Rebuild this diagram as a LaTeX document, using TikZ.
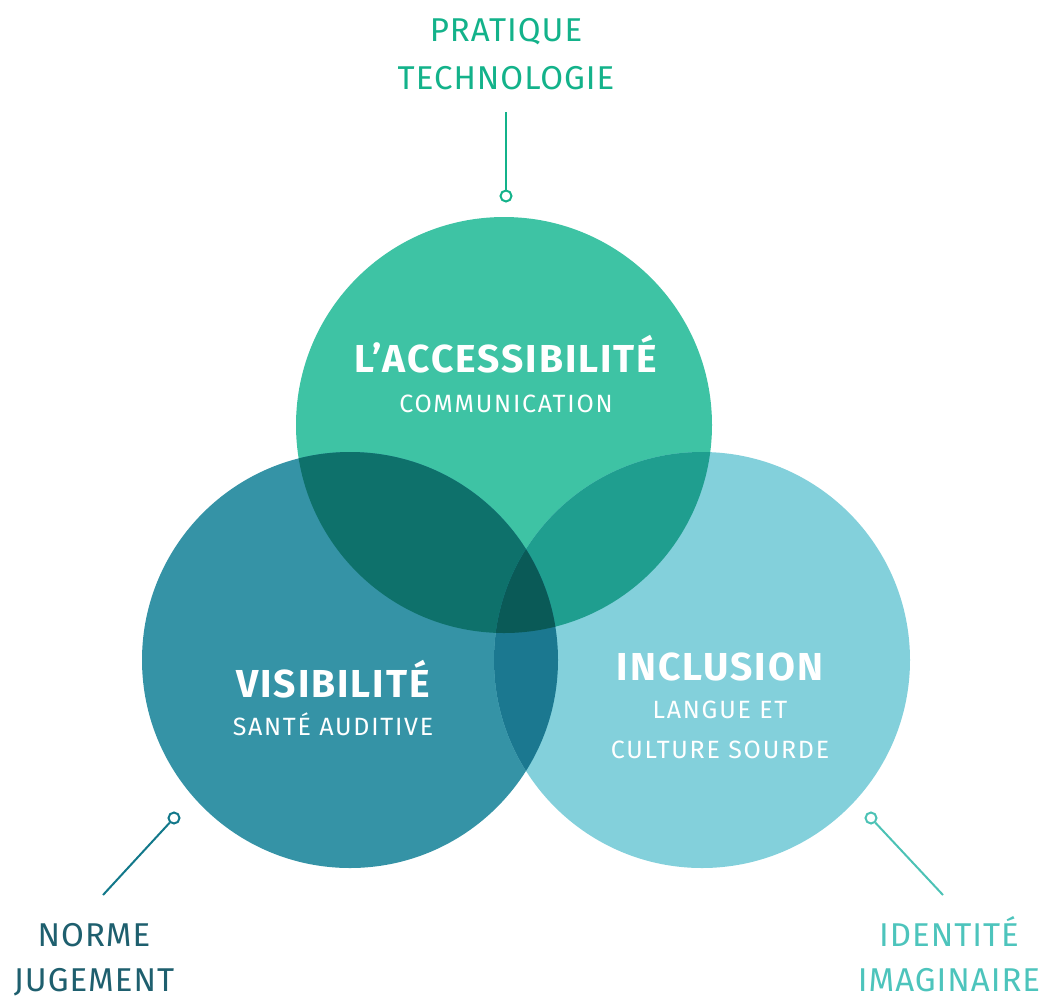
\documentclass[tikz,border=0pt]{standalone}
\usepackage{fontspec}
\setmainfont{Fira Sans}
\newfontfamily\outerfont[LetterSpace=3]{Fira Sans}
\newfontfamily\titlefont[LetterSpace=5]{Fira Sans}
\newfontfamily\subfont[LetterSpace=7]{Fira Sans}
\definecolor{ctop}{HTML}{3EC3A4}
\definecolor{cleft}{HTML}{3593A6}
\definecolor{cright}{HTML}{83D0DB}
\definecolor{ctl}{HTML}{0E716B}
\definecolor{ctr}{HTML}{1F9E8F}
\definecolor{clr}{HTML}{1B7890}
\definecolor{call}{HTML}{0A5A57}
\definecolor{ttop}{HTML}{13B28A}
\definecolor{tleft}{HTML}{1E5F6E}
\definecolor{tright}{HTML}{4DC4BC}
\definecolor{lleft}{HTML}{12788A}
\definecolor{lright}{HTML}{4CC2B5}
\begin{document}
\begin{tikzpicture}[x=1pt,y=-1pt,
  outer/.style={font=\outerfont\fontsize{33}{33}\selectfont,inner sep=0pt,anchor=base},
  title/.style={font=\titlefont\fontsize{39}{39}\selectfont\bfseries,text=white,inner sep=0pt,anchor=base},
  sub/.style={font=\subfont\fontsize{25}{25}\selectfont,text=white,inner sep=0pt,anchor=base},
  dot/.style={circle,draw,line width=2pt,fill=white,minimum size=11pt,inner sep=0pt},
  lead/.style={line width=2pt}]
\useasboundingbox (0,0) rectangle (1041,997);
\def\rr{208pt}
\coordinate (T) at (504,425);
\coordinate (L) at (350,660);
\coordinate (R) at (702,660);
\fill[ctop] (T) circle[radius=\rr];
\fill[cleft] (L) circle[radius=\rr];
\fill[cright] (R) circle[radius=\rr];
\begin{scope}
  \clip (L) circle[radius=\rr];
  \fill[ctl] (T) circle[radius=\rr];
\end{scope}
\begin{scope}
  \clip (R) circle[radius=\rr];
  \fill[ctr] (T) circle[radius=\rr];
\end{scope}
\begin{scope}
  \clip (L) circle[radius=\rr];
  \fill[clr] (R) circle[radius=\rr];
\end{scope}
\begin{scope}
  \clip (L) circle[radius=\rr];
  \clip (R) circle[radius=\rr];
  \fill[call] (T) circle[radius=\rr];
\end{scope}
% circle texts
\node[title] (acc) at (506,372) {L’ACCESSIBILITÉ};
\node[sub] (com) at (506,412) {COMMUNICATION};
\node[title] (vis) at (333,697) {VISIBILITÉ};
\node[sub] (sant) at (333,735) {SANTÉ AUDITIVE};
\node[title] (inc) at (720,680) {INCLUSION};
\node[sub] (lang) at (720,718) {LANGUE ET};
\node[sub] (cult) at (720,758) {CULTURE SOURDE};
% outer labels
\node[outer,text=ttop] (prat) at (506,41) {PRATIQUE};
\node[outer,text=ttop] (tech) at (506,89) {TECHNOLOGIE};
\node[outer,text=tleft] (norm) at (94,946) {NORME};
\node[outer,text=tleft] (jug) at (94,991) {JUGEMENT};
\node[outer,text=tright] (iden) at (949,946) {IDENTITÉ};
\node[outer,text=tright] (imag) at (949,991) {IMAGINAIRE};
% leaders
\coordinate (ttopend) at (506,112);
\coordinate (lend) at (103,895);
\coordinate (rend) at (943,895);
\node[dot,draw=ttop] (dt) at (506,196) {};
\node[dot,draw=lleft] (dl) at (174,818) {};
\node[dot,draw=lright] (dr) at (871,818) {};
\draw[lead,ttop] (dt) -- (ttopend);
\draw[lead,lleft] (dl) -- (lend);
\draw[lead,lright] (dr) -- (rend);
\end{tikzpicture}
\end{document}
